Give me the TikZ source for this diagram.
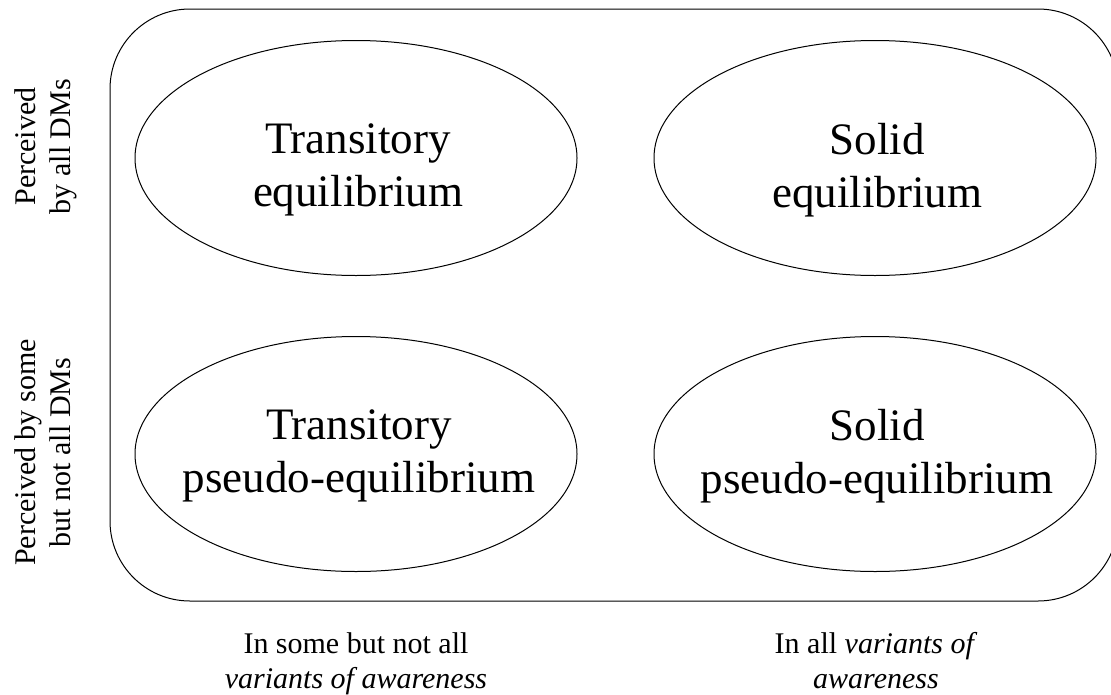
\documentclass[tikz,border=0pt]{standalone}
\usepackage{fontspec}
\setmainfont{Liberation Serif}
\usetikzlibrary{shapes.geometric}
\tikzset{
  frame/.style={draw=black, line width=1pt, rounded corners=80pt},
  oval/.style={draw=black, line width=1pt, ellipse, inner sep=0pt, minimum width=442pt, minimum height=235pt},
  bigtext/.style={font=\fontsize{45pt}{53pt}\selectfont, align=center, inner sep=0pt, anchor=north},
  sidetext/.style={font=\fontsize{30pt}{35pt}\selectfont, align=center, inner sep=0pt, anchor=north, rotate=90},
  bottomtext/.style={font=\fontsize{30pt}{35pt}\selectfont, align=center, inner sep=0pt, anchor=north}
}
\begin{document}
\begin{tikzpicture}[x=1pt, y=-1pt]
\useasboundingbox (0,0) rectangle (1111,694);
\begin{scope}
\clip (0,0) rectangle (1111,694);
\draw[frame] (110,9) rectangle (1118,601);
\end{scope}
% ellipses
\node[oval] (e11) at (356,158) {};
\node[oval] (e12) at (875,158) {};
\node[oval] (e21) at (356,454) {};
\node[oval] (e22) at (875,454) {};
% ellipse texts
\node[bigtext] (t11) at (358,123.5) {Transitory\\equilibrium};
\node[bigtext] (t12) at (877,123.5) {Solid\\equilibrium};
\node[bigtext] (t21) at (359,409) {Transitory\\pseudo-equilibrium};
\node[bigtext] (t22) at (877,409) {Solid\\pseudo-equilibrium};
% side labels
\node[sidetext] (s1) at (14.5,146.5) {Perceived\\by all DMs};
\node[sidetext] (s2) at (14.5,452.5) {Perceived by some\\but not all DMs};
% bottom labels
\node[bottomtext] (b1) at (356,632.5) {In some but not all\\\textit{variants of awareness}};
\node[bottomtext] (b2) at (876,632.5) {In all \textit{variants of}\\\textit{awareness}};
\end{tikzpicture}
\end{document}
